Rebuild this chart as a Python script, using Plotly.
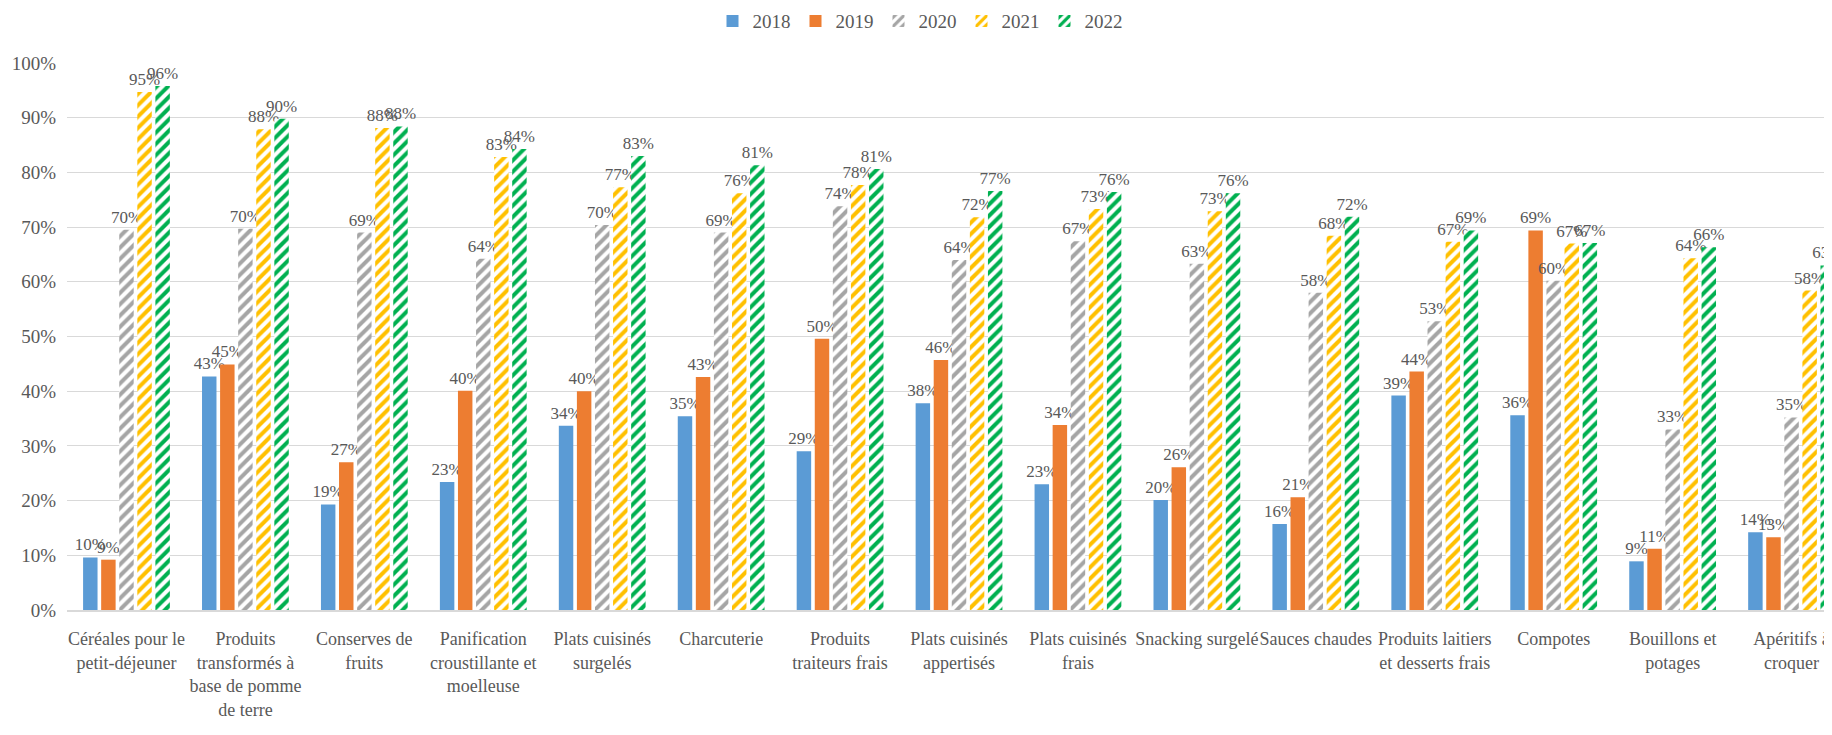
import plotly.graph_objects as go

categories = [
    "Céréales pour le<br>petit-déjeuner",
    "Produits<br>transformés à<br>base de pomme<br>de terre",
    "Conserves de<br>fruits",
    "Panification<br>croustillante et<br>moelleuse",
    "Plats cuisinés<br>surgelés",
    "Charcuterie",
    "Produits<br>traiteurs frais",
    "Plats cuisinés<br>appertisés",
    "Plats cuisinés<br>frais",
    "Snacking surgelé",
    "Sauces chaudes",
    "Produits laitiers<br>et desserts frais",
    "Compotes",
    "Bouillons et<br>potages",
    "Apéritifs à<br>croquer",
]

v2018 = [0.096, 0.427, 0.193, 0.234, 0.337, 0.354, 0.290, 0.378, 0.230, 0.201, 0.157, 0.392, 0.356, 0.089, 0.142]
v2019 = [0.092, 0.449, 0.270, 0.401, 0.400, 0.426, 0.496, 0.457, 0.338, 0.261, 0.206, 0.436, 0.694, 0.112, 0.133]
v2020 = [0.695, 0.697, 0.690, 0.642, 0.704, 0.690, 0.738, 0.640, 0.674, 0.633, 0.580, 0.528, 0.602, 0.330, 0.352]
v2021 = [0.947, 0.879, 0.881, 0.828, 0.773, 0.762, 0.777, 0.718, 0.733, 0.729, 0.684, 0.673, 0.670, 0.643, 0.584]
v2022 = [0.958, 0.898, 0.884, 0.843, 0.830, 0.813, 0.806, 0.766, 0.764, 0.762, 0.719, 0.694, 0.671, 0.663, 0.630]

years = ["2018", "2019", "2020", "2021", "2022"]
colors = ["#5B9BD5", "#ED7D31", "#A5A5A5", "#FFC000", "#00B050"]
patterned = [False, False, True, True, True]
series = [v2018, v2019, v2020, v2021, v2022]

FONT = "Liberation Serif, serif"
TXT = "#595959"

fig = go.Figure()
xs = list(range(len(categories)))
for name, vals, col, pat in zip(years, series, colors, patterned):
    if pat:
        marker = dict(color=col,
                      pattern=dict(shape="/", fgcolor=col, bgcolor="white",
                                   fgopacity=1, size=8, solidity=0.5,
                                   fillmode="replace"),
                      line=dict(width=0))
    else:
        marker = dict(color=col, line=dict(width=0))
    fig.add_trace(go.Bar(
        x=xs, y=vals, name=name, marker=marker,
        texttemplate="%{y:.0%}", textposition="outside",
        textfont=dict(family=FONT, size=17, color=TXT),
        constraintext="none", cliponaxis=False,
    ))

fig.update_layout(
    width=1824, height=727,
    barmode="group", bargap=0.24, bargroupgap=0.2,
    paper_bgcolor="white", plot_bgcolor="white",
    margin=dict(l=59, r=0, t=55, b=125, autoexpand=False),
    font=dict(family=FONT, color=TXT, size=18),
    legend=dict(orientation="h", xref="container", yref="container",
                x=0.5, xanchor="center", y=0.982, yanchor="middle",
                font=dict(family=FONT, size=19, color=TXT),
                itemwidth=30, traceorder="normal"),
    showlegend=True,
)
fig.update_xaxes(
    tickmode="array", tickvals=xs, ticktext=categories,
    range=[-0.5, 14.34], showgrid=False, tickangle=0, automargin=False,
    showline=True, linecolor="#D9D9D9", linewidth=1.5,
    ticks="", tickfont=dict(family=FONT, size=18, color=TXT),
    ticklabelstandoff=12,
)
fig.update_yaxes(
    range=[0, 1.0], tickvals=[i / 10 for i in range(11)], tickformat=".0%",
    showgrid=True, gridcolor="#D9D9D9", gridwidth=1.2, automargin=False,
    zeroline=False, showline=False,
    tickfont=dict(family=FONT, size=19, color=TXT),
    ticklabelstandoff=10,
)

fig.write_html("out.html")
